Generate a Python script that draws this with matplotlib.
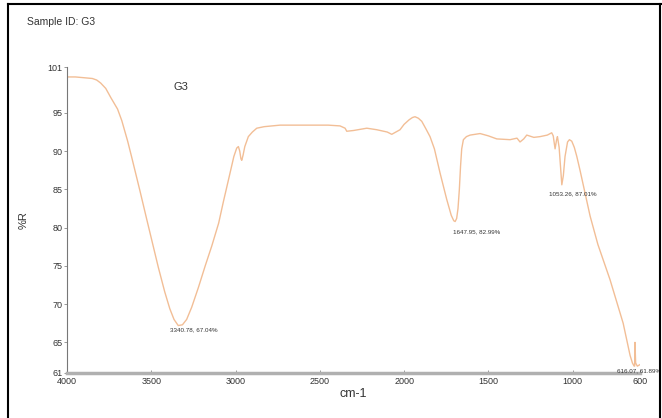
import numpy as np
import matplotlib
matplotlib.use('Agg')
import matplotlib.pyplot as plt
from matplotlib.lines import Line2D

plt.rcParams['font.family'] = ['Liberation Sans', 'DejaVu Sans']

# FTIR spectrum of sample G3 (wavenumber cm-1, %R)
wavenumber = [4000, 3950, 3900, 3850, 3824, 3800, 3770, 3740, 3700, 3675,
              3640, 3616, 3567, 3527, 3458, 3420, 3390, 3365, 3340, 3315,
              3290, 3260, 3220, 3180, 3141, 3100, 3072, 3033, 3010, 2993,
              2983, 2975, 2968, 2963, 2955, 2945, 2924, 2900, 2874, 2830,
              2736, 2600, 2450, 2380, 2350, 2340, 2300, 2221, 2162, 2100,
              2073, 2024, 2000, 1970, 1950, 1935, 1915, 1895, 1870, 1846,
              1820, 1786, 1747, 1720, 1705, 1697, 1688, 1680, 1672, 1665,
              1658, 1648, 1630, 1608, 1549, 1500, 1450, 1371, 1330, 1312,
              1290, 1272, 1230, 1193, 1150, 1124, 1115, 1104, 1095, 1090,
              1080, 1064, 1055, 1045, 1030, 1019, 1005, 990, 975, 955,
              896, 850, 778, 700, 659, 645, 635, 632, 630, 626,
              616, 608, 600]
reflectance = [99.7, 99.7, 99.6, 99.5, 99.3, 98.9, 98.2, 97.0, 95.5, 94.0,
               91.3, 89.2, 84.8, 81.1, 74.8, 71.6, 69.4, 68.0, 67.2, 67.3,
               68.0, 69.6, 72.2, 75.0, 77.6, 80.6, 83.4, 87.1, 89.3, 90.4,
               90.6, 90.0, 89.0, 88.8, 89.5, 90.6, 91.9, 92.5, 93.0, 93.2,
               93.4, 93.4, 93.4, 93.3, 93.0, 92.6, 92.7, 93.0, 92.8, 92.5,
               92.2, 92.8, 93.5, 94.1, 94.4, 94.5, 94.3, 93.9, 92.9, 91.9,
               90.3, 87.1, 83.7, 81.6, 80.9, 80.8, 81.2, 82.5, 85.0, 88.0,
               90.3, 91.5, 91.9, 92.1, 92.3, 92.0, 91.6, 91.5, 91.7, 91.2,
               91.6, 92.1, 91.8, 91.9, 92.1, 92.4, 92.0, 90.3, 91.5, 91.9,
               90.5, 85.6, 86.8, 89.3, 91.2, 91.5, 91.3, 90.5, 89.3, 87.4,
               81.5, 77.8, 73.2, 67.5, 63.3, 62.3, 61.9, 61.9, 65.0, 62.3,
               61.89, 62.0, 62.1]

peak_labels = ['3340.78, 67.04%', '1647.95, 82.99%', '1053.26, 87.01%', '616.07, 61.89%']
peak_label_x = [3246, 1709, 1140, 736]
peak_label_y = [66.7, 79.4, 84.45, 61.3]
peak_label_ha = ['center', 'left', 'left', 'left']

xticks = [4000, 3500, 3000, 2500, 2000, 1500, 1000, 600]
yticks = [61, 65, 70, 75, 80, 85, 90, 95, 101]

fig = plt.figure(figsize=(6.62, 4.18), dpi=100)
ax = fig.add_axes([0.1012, 0.1077, 0.8656, 0.732])

ax.plot(wavenumber, reflectance, color='#F2BE96', linewidth=1.0)

ax.set_xlim(4000, 600)
ax.set_ylim(61, 101)
ax.set_xticks(xticks)
ax.set_yticks(yticks)
ax.tick_params(axis='x', direction='in', length=2, width=0.6, colors='#888888',
               labelcolor='#333333', labelsize=6.5, pad=3)
ax.tick_params(axis='y', direction='out', length=2, width=0.6, colors='#888888',
               labelcolor='#333333', labelsize=6.5, pad=1)

for s in ['top', 'right']:
    ax.spines[s].set_visible(False)
ax.spines['left'].set_color('#777777')
ax.spines['left'].set_linewidth(0.8)
ax.spines['bottom'].set_color('#b0b0b0')
ax.spines['bottom'].set_linewidth(2.5)

ax.set_xlabel('cm-1', fontsize=9, color='#333333', labelpad=1)
ax.set_ylabel('%R', fontsize=8, color='#333333', labelpad=14)

for txt, x, y, ha in zip(peak_labels, peak_label_x, peak_label_y, peak_label_ha):
    ax.text(x, y, txt, fontsize=4.5, color='#333333', ha=ha, va='center', clip_on=False)

ax.text(3371, 98.4, 'G3', fontsize=8, color='#333333', ha='left', va='center')

fig.text(27 / 662, 1 - 22 / 418, 'Sample ID: G3', fontsize=7.5, color='#333333',
         ha='left', va='center')

# black frame around the figure
fig.add_artist(Line2D([8 / 662, 8 / 662], [0, 1 - 4 / 418], transform=fig.transFigure,
                      color='black', linewidth=1.5))
fig.add_artist(Line2D([8 / 662, 1], [1 - 4 / 418, 1 - 4 / 418], transform=fig.transFigure,
                      color='black', linewidth=1.5))
fig.add_artist(Line2D([660 / 662, 660 / 662], [0, 1 - 4 / 418], transform=fig.transFigure,
                      color='black', linewidth=1.5))

fig.savefig('out.png', dpi=100)
